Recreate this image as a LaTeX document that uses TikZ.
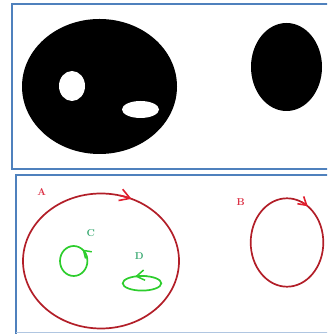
\documentclass[tikz,border=0pt]{standalone}
\usepackage{xcolor}
\usepackage{tikz}
\usetikzlibrary{arrows.meta}
\definecolor{framblue}{RGB}{79,129,189}
\definecolor{loopred}{RGB}{178,30,40}
\definecolor{tipred}{RGB}{225,30,45}
\definecolor{lblred}{RGB}{220,50,70}
\definecolor{loopgreen}{RGB}{45,205,45}
\definecolor{lblgreen}{RGB}{60,170,115}
\def\bigrx{78}
\def\bigry{67.5}
\def\smlrx{36.3}
\def\smlry{44.2}

\begin{document}
\begin{tikzpicture}[x=1pt, y=1pt,
		frame/.style={draw=framblue, line width=2pt},
		blob/.style={fill=black},
		hole/.style={fill=white},
		redloop/.style={draw=loopred, line width=1.7pt},
		greenloop/.style={draw=loopgreen, line width=1.7pt},
		redtip/.style={tipred, line width=1.6pt, -{Straight Barb[length=#1, width=1.2*#1]}},
		greentip/.style={loopgreen, line width=1.5pt, -{Straight Barb[length=#1, width=1.3*#1]}},
		lbl/.style={font=\normalsize\bfseries, inner sep=0pt}]
		\useasboundingbox (0,0) rectangle (327,334);
		\clip (0,0) rectangle (327,334);
		% upper panel
		\draw[frame] (340,330) -- (12,330) -- (12,165) -- (340,165);
		\fill[blob] (99.5,247.5) ellipse [x radius=77.5, y radius=67.5];
		\fill[hole] (72,248) ellipse [x radius=13, y radius=15];
		\fill[hole] (140.5,224.5) ellipse [x radius=18.5, y radius=8.5];
		\fill[blob] (286.5,267) ellipse [x radius=35.5, y radius=44];
		% lower panel
		\draw[frame] (340,159) -- (16,159) -- (16,0);
		\draw[framblue!45, line width=1.2pt] (16,1.5) -- (340,1.5);
		\coordinate (cA) at (101,73);
		\coordinate (cB) at (287,91.5);
		\coordinate (cC) at (73.7,73);
		\coordinate (cD) at (142,50.7);
		\draw[redloop] (cA) ellipse [x radius=\bigrx, y radius=\bigry];
		\draw[redloop] (cB) ellipse [x radius=\smlrx, y radius=\smlry];
		\draw[greenloop] (cC) ellipse [x radius=13.7, y radius=15];
		\draw[greenloop] (cD) ellipse [x radius=19.3, y radius=7.3];
		\draw[redtip=10pt] (cA) ++(76:\bigrx pt and \bigry pt)
			arc [start angle=76, end angle=67, x radius=\bigrx, y radius=\bigry];
		\draw[redtip=8pt] (cB) ++(66:\smlrx pt and \smlry pt)
			arc [start angle=66, end angle=55, x radius=\smlrx, y radius=\smlry];
		\draw[greentip=7pt] (cC) ++(10:13.7pt and 15pt)
			arc [start angle=10, end angle=50, x radius=13.7, y radius=15];
		\draw[greentip=8pt] (cD) ++(75:19.3pt and 7.3pt)
			arc [start angle=75, end angle=111, x radius=19.3, y radius=7.3];
		\node[lbl, text=lblred] (labA) at (41.7,141.7) {A};
		\node[lbl, text=lblred] (labB) at (240.7,131.7) {B};
		\node[lbl, text=lblgreen] (labC) at (90.7,100.7) {C};
		\node[lbl, text=lblgreen] (labD) at (139.3,78) {D};
\end{tikzpicture}
\end{document}
